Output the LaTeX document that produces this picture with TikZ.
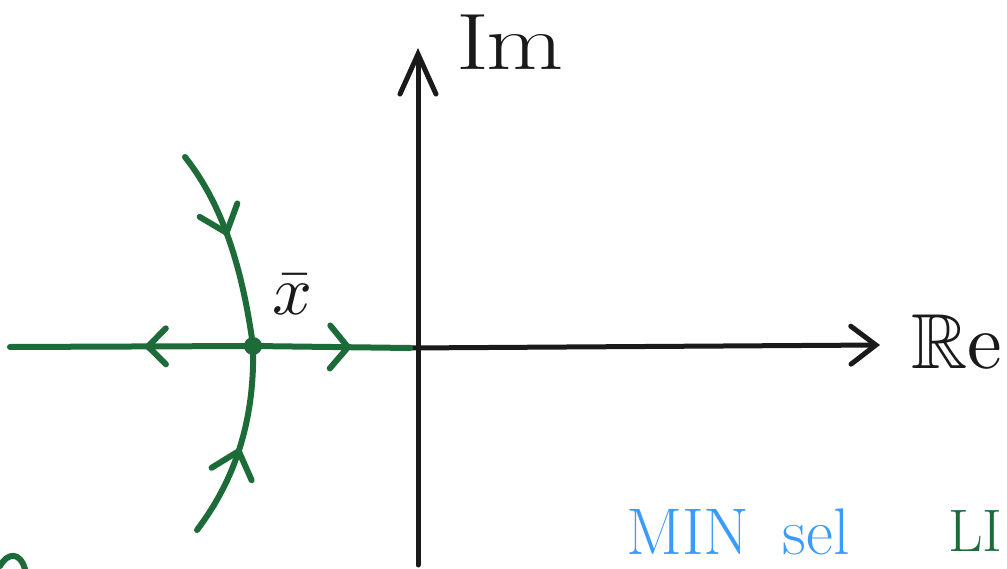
\documentclass[tikz,border=0pt]{standalone}
\usepackage{amssymb}
\usetikzlibrary{arrows.meta,decorations.markings}
\definecolor{pathgreen}{HTML}{1E6B3A}
\definecolor{noteblue}{HTML}{3A9BFF}
\definecolor{inkblack}{HTML}{1A1A1A}

\tikzset{
  axisline/.style={draw=inkblack,line width=5pt,line cap=round,line join=round},
  flowline/.style={draw=pathgreen,line width=6pt,line cap=round,line join=round},
  flowtip/.style n args={3}{postaction={decorate,decoration={markings,
      mark=at position #1 with {\arrow[pathgreen,line width=6pt]{Straight Barb[length=#2pt,width=#3pt,line cap=round]}}}}},
  handtext/.style={inner sep=0pt,anchor=center}
}

\begin{document}
\begin{tikzpicture}[x=1pt,y=-1pt]
  \useasboundingbox (0,0) rectangle (1007,569);

  % axes
  \coordinate (imlow) at (418,565);
  \coordinate (imtop) at (418,48);
  \coordinate (reorg) at (410,348);
  \coordinate (retip) at (880,345);
  \draw[axisline,-{Straight Barb[length=40pt,width=36pt,line cap=round]}] (imlow) -- (imtop);
  \draw[axisline,-{Straight Barb[length=25pt,width=38pt,line cap=round]}] (reorg) -- (retip);
  \node[handtext,font=\fontsize{80}{80}\selectfont,xscale=1.25,text=inkblack] (imlabel) at (510,42) {I\kern-2pt m};
  \node[handtext,scale=7.8,text=inkblack,anchor=west] (relabel) at (910,342) {$\mathbb{R}$e};

  % equilibrium and flow lines
  \fill[pathgreen] (253,346) circle (9pt);
  \coordinate (xbar) at (253,346);
  \coordinate (upend) at (185,157);
  \coordinate (lowend) at (197,530);
  \coordinate (leftend) at (10,347);
  \coordinate (rightend) at (410,348);
  \draw[flowline,flowtip={0.45}{24}{40}] (upend) .. controls (215,195) and (240,250) .. (xbar);
  \draw[flowline,flowtip={0.48}{24}{42}] (lowend) .. controls (235,480) and (255,420) .. (xbar);
  \draw[flowline,flowtip={0.45}{18}{36}] (xbar) -- (leftend);
  \draw[flowline,flowtip={0.63}{18}{43}] (xbar) -- (rightend);
  \node[handtext,scale=7,text=inkblack] (xlabel) at (293,295) {$\bar{x}$};

  % notes along the bottom
  \node[handtext,font=\fontsize{66}{66}\selectfont,text=noteblue,anchor=south west] (note) at (626,555) {MIN\hspace{0.5em}sel};
  \node[handtext,font=\fontsize{60}{60}\selectfont,text=pathgreen,anchor=south west] (notecut) at (948,552) {LI};
  \draw[flowline] (0,566) .. controls (8,552) and (20,552) .. (25,569);
\end{tikzpicture}
\end{document}
